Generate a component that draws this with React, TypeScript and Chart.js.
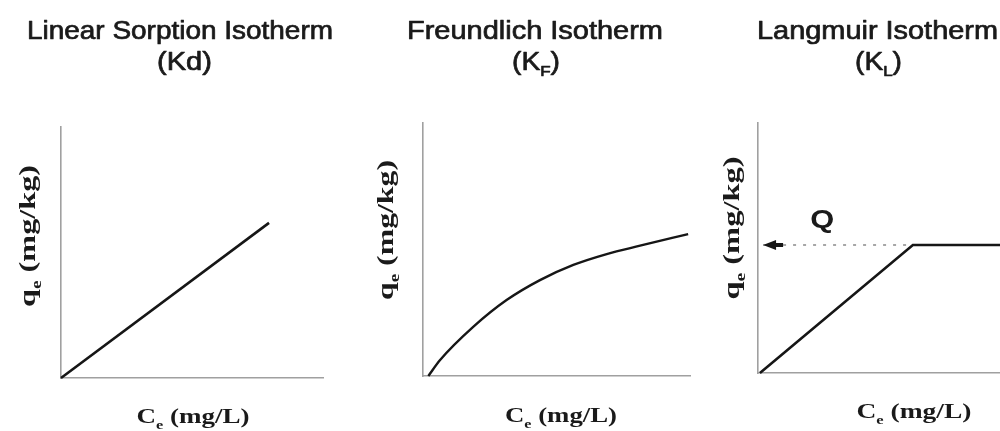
import React, { useEffect, useRef } from 'react';
import { Chart, registerables } from 'chart.js';

Chart.register(...registerables);

// ---- data (arbitrary units, axes run 0..10) ----
const axisMin = 0;
const axisMax = 10;

// Linear sorption isotherm (Kd)
const linearCe = [0, 7.94];
const linearQe = [0, 6.18];

// Freundlich isotherm (KF)
const freundlichCe = [0.2, 0.64, 1.88, 3.13, 4.38, 5.63, 6.88, 8.13, 9.93];
const freundlichQe = [0, 0.63, 1.94, 3.0, 3.79, 4.39, 4.82, 5.15, 5.61];

// Langmuir isotherm (KL)
const langmuirCe = [0.08, 6.4, 10];
const langmuirQe = [0, 5.12, 5.12];
const qGuideCe = [0.21, 6.4];
const qGuideQe = [5.12, 5.12];

// ---- texts ----
const panelTitles = [
  ['Linear Sorption Isotherm', '(Kd)'],
  ['Freundlich Isotherm', '(K_{F})'],
  ['Langmuir Isotherm', '(K_{L})'],
];
const yAxisLabel = 'q_{e} (mg/kg)';
const xAxisLabel = 'C_{e} (mg/L)';
const qLabel = 'Q';

// ---- layout (page pixels) ----
const W = 1000;
const H = 431;
const layouts = [
  {
    area: { left: 61, right: 323, top: 127, bottom: 378 },
    title: [{ x: 180, len: 306 }, { x: 184.5, len: 55 }],
    yLab: { x: 35, y: 236, len: 142 },
    xLab: { x: 193, y: 423, len: 113 },
  },
  {
    area: { left: 423, right: 690, top: 123, bottom: 376 },
    title: [{ x: 535, len: 256 }, { x: 536, len: 48 }],
    yLab: { x: 392.5, y: 230, len: 140 },
    xLab: { x: 561, y: 422, len: 112 },
  },
  {
    area: { left: 758, right: 1000, top: 123, bottom: 373 },
    title: [{ x: 877.5, len: 241 }, { x: 878.5, len: 47 }],
    yLab: { x: 738.5, y: 228, len: 143 },
    xLab: { x: 914, y: 418, len: 115 },
  },
];
const titleBaselines = [39, 70];

const LINE = '#161616';
const AXIS = '#a0a0a0';
const TEXT = '#1a1a1a';

type Part = { t: string; sub: boolean };
function parseRich(s: string): Part[] {
  const parts: Part[] = [];
  const re = /_\{([^}]*)\}/g;
  let last = 0;
  let m: RegExpExecArray | null;
  while ((m = re.exec(s))) {
    if (m.index > last) parts.push({ t: s.slice(last, m.index), sub: false });
    parts.push({ t: m[1], sub: true });
    last = m.index + m[0].length;
  }
  if (last < s.length) parts.push({ t: s.slice(last), sub: false });
  return parts;
}

function drawRich(
  ctx: CanvasRenderingContext2D,
  s: string,
  x: number,
  y: number,
  o: { size: number; family: string; weight: string; len?: number; angle?: number; stroke?: number }
) {
  const parts = parseRich(s);
  const main = `${o.weight} ${o.size}px ${o.family}`;
  const sub = `${o.weight} ${o.size * 0.6}px ${o.family}`;
  let total = 0;
  const ws = parts.map((p) => {
    ctx.font = p.sub ? sub : main;
    const w = ctx.measureText(p.t).width;
    total += w;
    return w;
  });
  const sx = o.len ? o.len / total : 1;
  ctx.save();
  ctx.translate(x, y);
  if (o.angle) ctx.rotate(o.angle);
  ctx.scale(sx, 1);
  ctx.fillStyle = TEXT;
  ctx.strokeStyle = TEXT;
  ctx.lineWidth = o.stroke || 0;
  ctx.lineJoin = 'round';
  ctx.textAlign = 'left';
  ctx.textBaseline = 'alphabetic';
  let cx = -total / 2;
  parts.forEach((p, i) => {
    ctx.font = p.sub ? sub : main;
    const dy = p.sub ? o.size * 0.25 : 0;
    ctx.fillText(p.t, cx, dy);
    if (o.stroke) ctx.strokeText(p.t, cx, dy);
    cx += ws[i];
  });
  ctx.restore();
}

function makeTextPlugin(idx: number) {
  return {
    id: 'panelText' + idx,
    afterDraw(chart: any) {
      const ctx: CanvasRenderingContext2D = chart.ctx;
      const L = layouts[idx];
      panelTitles[idx].forEach((line, i) => {
        drawRich(ctx, line, L.title[i].x, titleBaselines[i], {
          size: 25,
          family: '"Liberation Sans", Arial, sans-serif',
          weight: 'normal',
          len: L.title[i].len,
          stroke: 0.7,
        });
      });
      drawRich(ctx, yAxisLabel, L.yLab.x, L.yLab.y, {
        size: 24,
        family: '"Liberation Serif", "Times New Roman", serif',
        weight: 'bold',
        len: L.yLab.len,
        angle: -Math.PI / 2,
      });
      drawRich(ctx, xAxisLabel, L.xLab.x, L.xLab.y, {
        size: 22,
        family: '"Liberation Serif", "Times New Roman", serif',
        weight: 'bold',
        len: L.xLab.len,
      });
    },
  };
}

const arrowPlugin = {
  id: 'qArrow',
  afterDatasetsDraw(chart: any) {
    const ctx: CanvasRenderingContext2D = chart.ctx;
    const xs = chart.scales.x;
    const ys = chart.scales.y;
    const tipX = xs.getPixelForValue(qGuideCe[0]);
    const tipY = ys.getPixelForValue(qGuideQe[0]);
    ctx.save();
    ctx.fillStyle = LINE;
    ctx.beginPath();
    ctx.moveTo(tipX, tipY);
    ctx.lineTo(tipX + 13, tipY - 5);
    ctx.lineTo(tipX + 13, tipY + 5);
    ctx.closePath();
    ctx.fill();
    ctx.fillRect(tipX + 12, tipY - 2, 8, 4);
    ctx.restore();
    // Q label, above the guide line
    const qx = xs.getPixelForValue(2.65);
    const qy = ys.getPixelForValue(qGuideQe[0]) - 17;
    drawRich(ctx, qLabel, qx, qy, {
      size: 25,
      family: '"Liberation Sans", Arial, sans-serif',
      weight: 'bold',
      len: 24,
    });
  },
};

function pts(xs: number[], ys: number[]) {
  return xs.map((x, i) => ({ x, y: ys[i] }));
}

function buildConfig(idx: number): any {
  const L = layouts[idx].area;
  const datasets: any[] = [];
  if (idx === 0) {
    datasets.push({ data: pts(linearCe, linearQe), borderColor: LINE, borderWidth: 2.6, pointRadius: 0, clip: false });
  } else if (idx === 1) {
    datasets.push({
      data: pts(freundlichCe, freundlichQe),
      borderColor: LINE,
      borderWidth: 2.4,
      pointRadius: 0,
      cubicInterpolationMode: 'monotone',
      clip: false,
    });
  } else {
    datasets.push({ data: pts(langmuirCe, langmuirQe), borderColor: LINE, borderWidth: 2.6, pointRadius: 0, clip: false });
    datasets.push({
      data: pts(qGuideCe, qGuideQe),
      borderColor: '#8a8a8a',
      borderWidth: 1.6,
      borderDash: [3, 7],
      pointRadius: 0,
      clip: false,
    });
  }
  const plugins: any[] = [makeTextPlugin(idx)];
  if (idx === 2) plugins.push(arrowPlugin);
  const scaleBase = {
    type: 'linear',
    min: axisMin,
    max: axisMax,
    ticks: { display: false },
    grid: { display: false, drawTicks: false },
    border: { display: true, color: AXIS, width: 1.6 },
  };
  return {
    type: 'line',
    data: { datasets },
    options: {
      animation: false,
      responsive: false,
      maintainAspectRatio: false,
      events: [],
      layout: {
        padding: { left: L.left, right: W - L.right, top: L.top, bottom: H - L.bottom },
      },
      plugins: { legend: { display: false }, tooltip: { enabled: false }, title: { display: false } },
      scales: {
        x: { ...scaleBase, position: 'bottom' },
        y: { ...scaleBase, position: 'left' },
      },
    },
    plugins,
  };
}

function Panel({ idx }: { idx: number }) {
  const ref = useRef<HTMLCanvasElement | null>(null);
  useEffect(() => {
    if (!ref.current) return;
    const chart = new Chart(ref.current, buildConfig(idx));
    return () => chart.destroy();
  }, [idx]);
  return (
    <canvas
      ref={ref}
      width={W}
      height={H}
      style={{ position: 'absolute', left: 0, top: 0, width: W, height: H }}
    />
  );
}

export default function App() {
  return (
    <div style={{ position: 'absolute', left: 0, top: 0, width: W, height: H, background: '#ffffff', overflow: 'hidden' }}>
      <Panel idx={0} />
      <Panel idx={1} />
      <Panel idx={2} />
    </div>
  );
}
